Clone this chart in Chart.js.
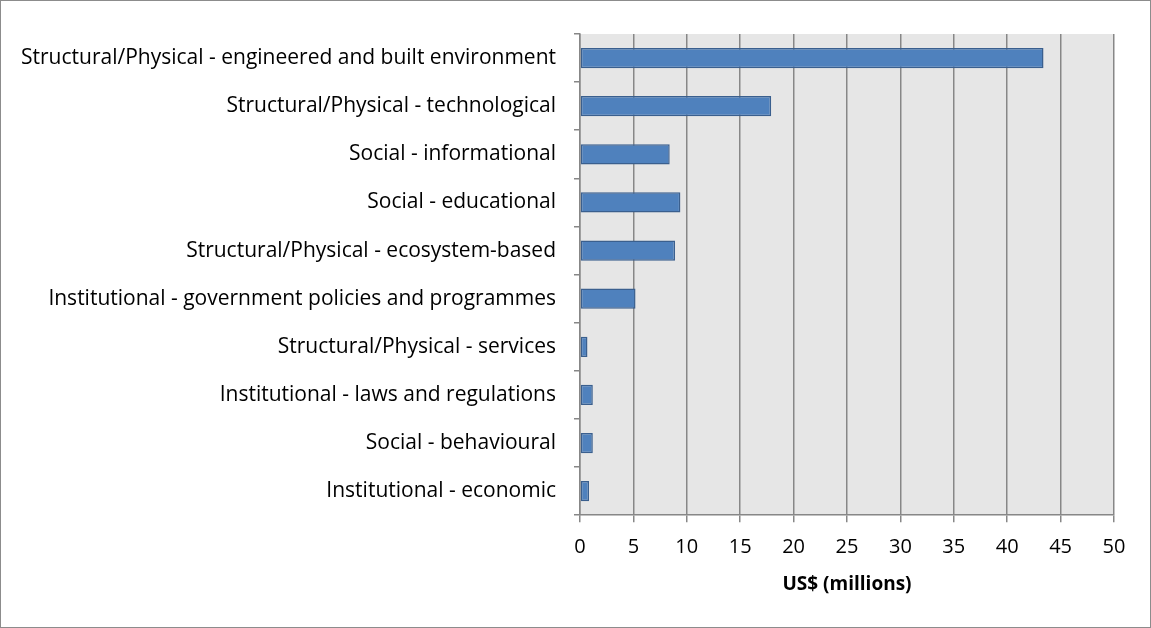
<!DOCTYPE html>
<html>
<head>
<meta charset="utf-8">
<script src="https://cdn.jsdelivr.net/npm/chart.js@4/dist/chart.umd.min.js"></script>
<style>
  html, body { margin: 0; padding: 0; background: #fff; }
  .chart-box {
    position: relative;
    width: 1149px;
    height: 626px;
    border: 1px solid #8c8c8c;
  }
</style>
</head>
<body>
<div class="chart-box">
  <canvas id="chart"></canvas>
</div>
<script>
// adaptation categories, top to bottom
const categories = [
  'Structural/Physical - engineered and built environment',
  'Structural/Physical - technological',
  'Social - informational',
  'Social - educational',
  'Structural/Physical - ecosystem-based',
  'Institutional - government policies and programmes',
  'Structural/Physical - services',
  'Institutional - laws and regulations',
  'Social - behavioural',
  'Institutional - economic'
];
// funding per category, US$ millions
const funding = [43.4, 17.9, 8.4, 9.4, 8.9, 5.2, 0.7, 1.2, 1.2, 0.85];
const xTicks = [0, 5, 10, 15, 20, 25, 30, 35, 40, 45, 50];
const xTitle = 'US$ (millions)';

const FONT = "'Open Sans', sans-serif";

// grey plot background behind the bars
const plotBackground = {
  id: 'plotBackground',
  beforeDraw(chart) {
    const { ctx, chartArea } = chart;
    ctx.save();
    ctx.fillStyle = '#e6e6e6';
    ctx.fillRect(chartArea.left, chartArea.top, chartArea.right - chartArea.left, chartArea.bottom - chartArea.top);
    ctx.restore();
  }
};

const ctx = document.getElementById('chart').getContext('2d');
new Chart(ctx, {
  type: 'bar',
  data: {
    labels: categories,
    datasets: [{
      label: 'Funding',
      data: funding,
      backgroundColor: '#4f81bd',
      borderColor: '#3a5f8e',
      borderWidth: 1.5,
      borderSkipped: false,
      barPercentage: 1,
      categoryPercentage: 0.42
    }]
  },
  options: {
    indexAxis: 'y',
    responsive: true,
    maintainAspectRatio: false,
    animation: false,
    layout: { padding: { top: 33, right: 36, left: 0, bottom: 31 } },
    plugins: {
      legend: { display: false },
      tooltip: { enabled: false }
    },
    scales: {
      x: {
        min: 0,
        max: 50,
        afterBuildTicks: (axis) => { axis.ticks = xTicks.map(v => ({ value: v })); },
        grid: {
          color: '#878787',
          lineWidth: 1.5,
          tickLength: 7,
          tickColor: '#878787'
        },
        border: { color: '#878787', width: 1.5 },
        ticks: {
          color: '#000',
          font: { family: FONT, size: 20 },
          padding: 13
        },
        title: {
          display: true,
          text: xTitle,
          color: '#000',
          font: { family: FONT, size: 19, weight: 'bold' },
          padding: { top: 1, bottom: 0 }
        }
      },
      y: {
        afterFit: (axis) => { axis.width = 579; },
        grid: {
          offset: true,
          drawOnChartArea: false,
          tickLength: 6,
          tickColor: '#878787',
          lineWidth: 1.5
        },
        border: { color: '#878787', width: 1.5 },
        ticks: {
          color: '#000',
          font: { family: FONT, size: 21 },
          padding: 18,
          autoSkip: false
        }
      }
    }
  },
  plugins: [plotBackground]
});
</script>
</body>
</html>
